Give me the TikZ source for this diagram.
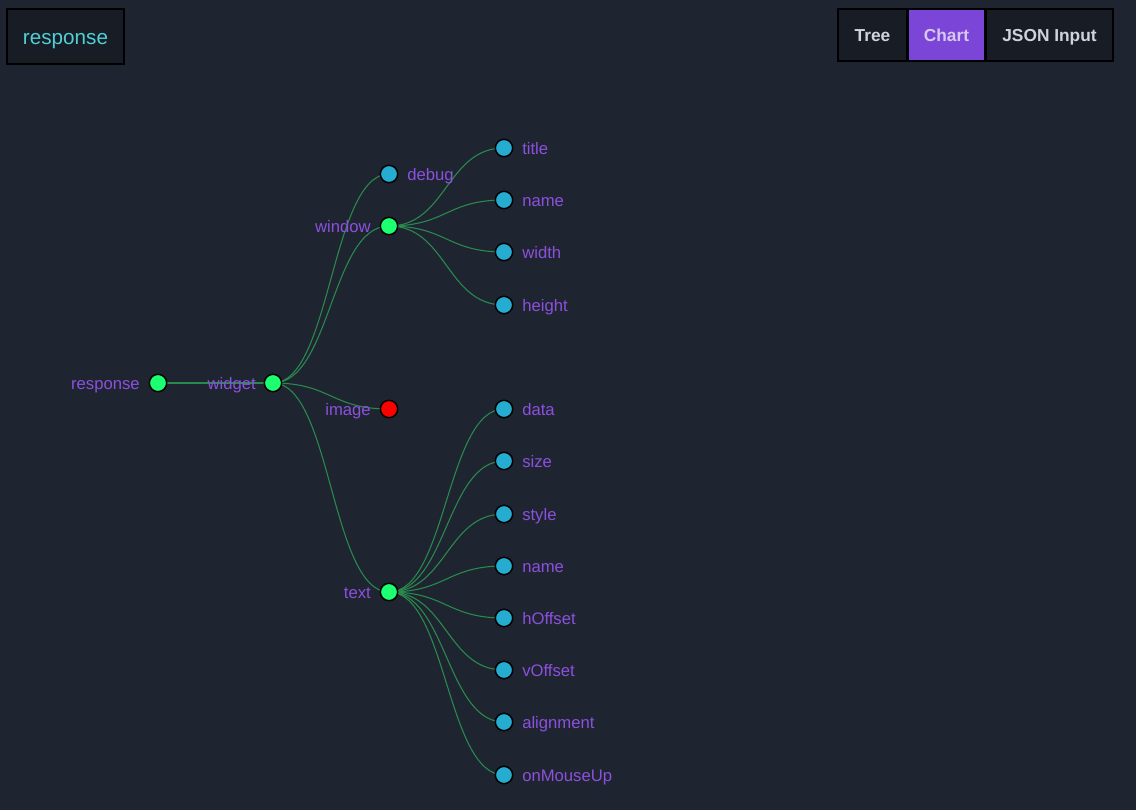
\documentclass[tikz,border=0pt]{standalone}
\usepackage{fontspec}
\setmainfont{Liberation Sans}
\usetikzlibrary{calc,backgrounds}
\definecolor{bgc}{HTML}{1E2530}
\definecolor{boxc}{HTML}{181C25}
\definecolor{edgec}{HTML}{2A8A4E}
\definecolor{greenn}{HTML}{1CFF70}
\definecolor{cyann}{HTML}{25ACD0}
\definecolor{redn}{HTML}{FF0000}
\definecolor{labc}{HTML}{8C50DE}
\definecolor{titc}{HTML}{4FD0D8}
\definecolor{btnc}{HTML}{D0D3DA}
\definecolor{chtc}{HTML}{D6C8F2}
\definecolor{purb}{HTML}{7B46D8}
\tikzset{
  x=0.75pt, y=-0.75pt,
  dot/.style={circle, draw=black, line width=1.1pt, minimum size=13pt, inner sep=0pt},
  gdot/.style={dot, fill=greenn},
  cdot/.style={dot, fill=cyann},
  rdot/.style={dot, fill=redn},
  lab/.style={text=labc, font=\fontsize{12.5}{15}\selectfont, inner sep=0pt},
  labL/.style={lab, anchor=base east, yshift=-4.5pt},
  labR/.style={lab, anchor=base west, yshift=-4.5pt},
  edge/.style={draw=edgec, line width=0.8pt},
  btn/.style={draw=black, line width=0.9pt, fill=boxc, text=btnc, font=\fontsize{13}{15}\selectfont\bfseries, inner sep=0pt, minimum height=39pt, text height=9.3pt, text depth=0pt},
}
\newcommand\lnk[2]{\draw[edge] let \p1=(#1.center), \p2=(#2.center) in (\p1) .. controls ({(\x1+\x2)/2},\y1) and ({(\x1+\x2)/2},\y2) .. (\p2);}
\begin{document}
\begin{tikzpicture}
\begin{scope}[on background layer]
\fill[bgc] (0,0) rectangle (1136,810);
\end{scope}
\useasboundingbox (0,0) rectangle (1136,810);

% top left box
\node[draw=black, line width=0.9pt, fill=boxc, minimum width=87.75pt, minimum height=41.25pt, text=titc, font=\fontsize{15.5}{18}\selectfont, inner sep=0pt, text height=11.5pt, text depth=0pt] (resp) at (65.5,36.5) {response};

% top right buttons
\node[btn, minimum width=51.75pt] (tree) at (872.5,35) {Tree};
\node[btn, fill=purb, text=chtc, minimum width=57.75pt] (chart) at (946.5,35) {Chart};
\node[btn, minimum width=95.25pt] (json) at (1049.5,35) {JSON Input};

% nodes
\node[gdot] (response) at (158,383) {};
\node[gdot] (widget) at (273,383) {};
\node[cdot] (debug) at (389,174) {};
\node[gdot] (window) at (389,226) {};
\node[rdot] (image) at (389,409) {};
\node[gdot] (text) at (389,592) {};
\node[cdot] (title) at (504,148) {};
\node[cdot] (name1) at (504,200) {};
\node[cdot] (width) at (504,252) {};
\node[cdot] (height) at (504,305) {};
\node[cdot] (data) at (504,409) {};
\node[cdot] (size) at (504,461) {};
\node[cdot] (style) at (504,514) {};
\node[cdot] (name2) at (504,566) {};
\node[cdot] (hoff) at (504,618) {};
\node[cdot] (voff) at (504,670) {};
\node[cdot] (align) at (504,722) {};
\node[cdot] (mouse) at (504,775) {};

% labels
\node[labL] (l-response) at (140,383) {response};
\node[labL] (l-widget) at (256,383) {widget};
\node[labR] (l-debug) at (407,174) {debug};
\node[labL] (l-window) at (371,226) {window};
\node[labL] (l-image) at (371,409) {image};
\node[labL] (l-text) at (371,592) {text};
\node[labR] (l-title) at (522,148) {title};
\node[labR] (l-name1) at (522,200) {name};
\node[labR] (l-width) at (522,252) {width};
\node[labR] (l-height) at (522,305) {height};
\node[labR] (l-data) at (522,409) {data};
\node[labR] (l-size) at (522,461) {size};
\node[labR] (l-style) at (522,514) {style};
\node[labR] (l-name2) at (522,566) {name};
\node[labR] (l-hoff) at (522,618) {hOffset};
\node[labR] (l-voff) at (522,670) {vOffset};
\node[labR] (l-align) at (522,722) {alignment};
\node[labR] (l-mouse) at (522,775) {onMouseUp};

% edges
\begin{scope}[on background layer]
\lnk{response}{widget}
\lnk{widget}{debug}
\lnk{widget}{window}
\lnk{widget}{image}
\lnk{widget}{text}
\lnk{window}{title}
\lnk{window}{name1}
\lnk{window}{width}
\lnk{window}{height}
\lnk{text}{data}
\lnk{text}{size}
\lnk{text}{style}
\lnk{text}{name2}
\lnk{text}{hoff}
\lnk{text}{voff}
\lnk{text}{align}
\lnk{text}{mouse}
\end{scope}
\end{tikzpicture}
\end{document}
